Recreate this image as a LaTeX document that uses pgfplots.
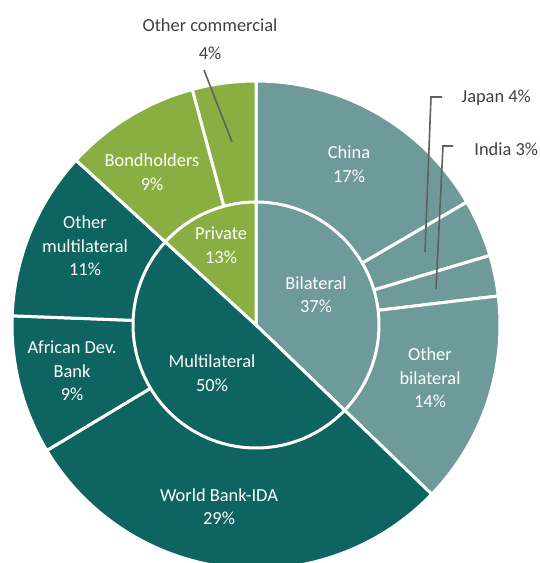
\documentclass[border=0pt]{standalone}
\usepackage{pgfplots}
\pgfplotsset{compat=1.18}
\usepackage{pgfplotstable}
\usepackage{fontspec}
\setmainfont{Carlito}

\definecolor{bil}{HTML}{6F9A9A}
\definecolor{mul}{HTML}{0E6460}
\definecolor{pri}{HTML}{89AF42}
\definecolor{txt}{HTML}{404040}
\definecolor{lead}{HTML}{606060}

% outer ring, clockwise from 12 o'clock (share of debt, %)
\pgfplotstableread{
name value col
China 16.6 bil
Japan 3.8 bil
India 2.7 bil
OtherBilateral 14.1 bil
WorldBankIDA 29.2 mul
AfricanDevBank 9.2 mul
OtherMultilateral 11.2 mul
Bondholders 9.0 pri
OtherCommercial 4.2 pri
}\outerdata

% inner pie
\pgfplotstableread{
name value col
Bilateral 37.2 bil
Multilateral 49.6 mul
Private 13.2 pri
}\innerdata

\begin{document}
\begin{tikzpicture}
\begin{axis}[
    name=ax,
    hide axis,
    x=0.5pt, y=0.5pt,
    xmin=0, xmax=540,
    ymin=0, ymax=563,
    clip=true,
]
\pgfplotsextra{
    % outer ring
    \def\acc{90}
    \pgfplotstablegetrowsof{\outerdata}
    \pgfmathtruncatemacro\nlast{\pgfplotsretval-1}
    \pgfplotsforeachungrouped \i in {0,...,\nlast} {
        \pgfplotstablegetelem{\i}{value}\of\outerdata \let\val\pgfplotsretval
        \pgfplotstablegetelem{\i}{col}\of\outerdata \let\colname\pgfplotsretval
        \pgfmathsetmacro\endang{\acc-3.6*\val}
        \fill[fill=\colname, draw=white, line width=1.5pt]
            (axis cs:256,238) -- ++(\acc:122pt)
            arc[start angle=\acc, end angle=\endang, radius=122pt] -- cycle;
        \let\acc\endang
    }
    % inner pie
    \def\acc{90}
    \pgfplotstablegetrowsof{\innerdata}
    \pgfmathtruncatemacro\nlast{\pgfplotsretval-1}
    \pgfplotsforeachungrouped \i in {0,...,\nlast} {
        \pgfplotstablegetelem{\i}{value}\of\innerdata \let\val\pgfplotsretval
        \pgfplotstablegetelem{\i}{col}\of\innerdata \let\colname\pgfplotsretval
        \pgfmathsetmacro\endang{\acc-3.6*\val}
        \fill[fill=\colname, draw=white, line width=1.5pt]
            (axis cs:256,238) -- ++(\acc:61.5pt)
            arc[start angle=\acc, end angle=\endang, radius=61.5pt] -- cycle;
        \let\acc\endang
    }
}

% leader lines
\draw[lead, line width=0.8pt] (axis cs:204,493) -- (axis cs:232,421);
\draw[lead, line width=0.8pt] (axis cs:442,466) -- (axis cs:431,466) -- (axis cs:425,311);
\draw[lead, line width=0.8pt] (axis cs:453,417) -- (axis cs:443,417) -- (axis cs:436,274);

% labels inside segments
\begin{scope}[every node/.style={font=\fontsize{9.2}{11.8}\selectfont, text=white, align=center, inner sep=0pt}]
\node at (axis cs:349,399) {China\\17\%};
\node at (axis cs:316,268.5) {Bilateral\\37\%};
\node at (axis cs:430,185) {Other\\bilateral\\14\%};
\node at (axis cs:219,56.5) {World Bank-IDA\\29\%};
\node at (axis cs:212,190) {Multilateral\\50\%};
\node at (axis cs:72,192) {African Dev.\\Bank\\9\%};
\node at (axis cs:85,317) {Other\\multilateral\\11\%};
\node at (axis cs:152,391) {Bondholders\\9\%};
\node at (axis cs:221,318) {Private\\13\%};
\end{scope}

% labels outside
\begin{scope}[every node/.style={font=\fontsize{9.2}{11.8}\selectfont, text=txt, inner sep=0pt}]
\node at (axis cs:210,538) {Other commercial};
\node at (axis cs:210,510) {4\%};
\node[anchor=west] at (axis cs:461,465) {Japan 4\%};
\node[anchor=west] at (axis cs:474,414) {India 3\%};
\end{scope}
\end{axis}
\pgfresetboundingbox
\path[use as bounding box] (ax.south west) rectangle (ax.north east);
\end{tikzpicture}
\end{document}
